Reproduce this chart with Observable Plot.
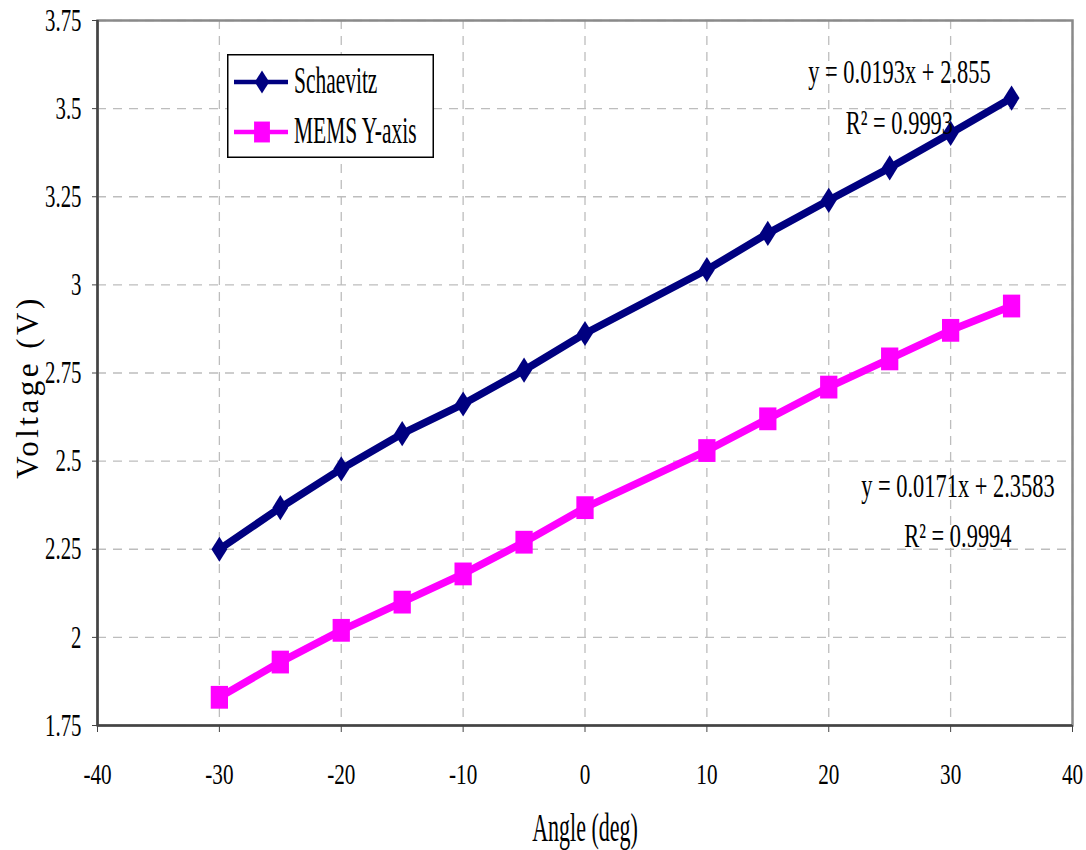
<!DOCTYPE html>
<html><head><meta charset="utf-8">
<script src="https://cdn.jsdelivr.net/npm/d3@7"></script>
<script src="https://cdn.jsdelivr.net/npm/@observablehq/plot@0.6"></script>
<style>
body{margin:0;background:#fff;}
#chart{position:relative;width:1086px;height:850px;}
</style></head><body><div id="chart"></div>
<script>
// ---- data ----
const angles    = [-30, -25, -20, -15, -10, -5, 0, 10, 15, 20, 25, 30, 35];
const schaevitz = [2.25, 2.368, 2.478, 2.578, 2.662, 2.758, 2.862, 3.043, 3.146, 3.24, 3.332, 3.43, 3.53];
const mems      = [1.83, 1.93, 2.02, 2.10, 2.18, 2.27, 2.368, 2.53, 2.62, 2.71, 2.79, 2.871, 2.94];
const seriesNames  = ["Schaevitz", "MEMS Y-axis"];
const seriesColors = ["#000080", "#ff00ff"];
const xTicks = [-40, -30, -20, -10, 0, 10, 20, 30, 40];
const yTicks = [1.75, 2, 2.25, 2.5, 2.75, 3, 3.25, 3.5, 3.75];
const fitEquations = ["y = 0.0193x + 2.855", "y = 0.0171x + 2.3583"];
const fitR2 = ["R\u00B2 = 0.9993", "R\u00B2 = 0.9994"];
const xLabel = "Angle (deg)";
const yLabel = "Voltage (V)";

// ---- build table ----
const rows = angles.flatMap((a, i) => [
  {angle: a, v: schaevitz[i], s: seriesNames[0]},
  {angle: a, v: mems[i], s: seriesNames[1]}
]);
// annotation anchors in data space
const fitNotes = [
  {t: fitEquations[0], x: 25.8, y: 3.574},
  {t: fitR2[0],        x: 25.8, y: 3.429},
  {t: fitEquations[1], x: 30.6, y: 2.397},
  {t: fitR2[1],        x: 30.6, y: 2.255}
];

function tall(kind) {
  return {draw(ctx, size) {
    const r = Math.sqrt(size / Math.PI);
    const w = kind === "diamond" ? r * 0.66 : r * 0.72, h = kind === "diamond" ? r * 1.05 : r * 0.95;
    if (kind === "diamond") {
      ctx.moveTo(0, -h); ctx.lineTo(w, 0); ctx.lineTo(0, h); ctx.lineTo(-w, 0); ctx.closePath();
    } else {
      ctx.moveTo(-w, -h); ctx.lineTo(w, -h); ctx.lineTo(w, h); ctx.lineTo(-w, h); ctx.closePath();
    }
  }};
}
const symbols = [tall("diamond"), tall("square")];

const grid = {stroke: "#bdbdbd", strokeOpacity: 1, strokeWidth: 1.3, strokeDasharray: "9,7"};
const FONT = "Liberation Serif";

const plot = Plot.plot({
  width: 1086, height: 850,
  marginLeft: 97, marginRight: 14, marginTop: 20, marginBottom: 125,
  style: {fontFamily: FONT, color: "#000", background: "#fff"},
  x: {domain: [-40, 40]},
  y: {domain: [1.75, 3.75]},
  color: {domain: seriesNames, range: seriesColors},
  marks: [
    Plot.gridX(xTicks, grid),
    Plot.gridY(yTicks, grid),
    Plot.frame({stroke: "#8a8a8a", strokeWidth: 2.5}),
    Plot.ruleX([-40], {stroke: "#444", strokeWidth: 2.5}),
    Plot.ruleY([1.75], {stroke: "#444", strokeWidth: 2.5}),
    Plot.axisX(xTicks, {tickSize: 7, tickPadding: 31, fontSize: 29, fontFamily: FONT, tickFormat: d => String(d), label: null, stroke: "#444"}),
    Plot.axisY(yTicks, {tickSize: 5, tickPadding: 11, fontSize: 32, fontFamily: FONT, tickFormat: d => String(d), label: null, stroke: "#444"}),
    Plot.line(rows, {x: "angle", y: "v", z: "s", stroke: "s", strokeWidth: 7.5, strokeLinejoin: "round"}),
    ...seriesNames.map((name, k) =>
      Plot.dot(rows.filter(d => d.s === name), {x: "angle", y: "v", fill: "s", stroke: null, r: 12, symbol: symbols[k]})
    ),
    Plot.text(fitNotes, {x: "x", y: "y", text: "t", textAnchor: "middle", lineAnchor: "bottom", fontSize: 33, fontFamily: FONT, fill: "#000"}),
    Plot.text([xLabel], {text: d => d, frameAnchor: "bottom", dy: 115, textAnchor: "middle", lineAnchor: "bottom", fontSize: 40, fontFamily: FONT, fill: "#000"}),
    Plot.text([yLabel], {text: d => d, frameAnchor: "left", rotate: -90, dx: -60, dy: 14, textAnchor: "middle", lineAnchor: "bottom", fontSize: 31, fontFamily: FONT, fill: "#000"})
  ]
});
document.getElementById("chart").appendChild(plot);

function condenseEls(els, sx) {
  els.forEach(t => {
    let tr = t.getAttribute("transform");
    if (!tr) {
      const x = +(t.getAttribute("x") || 0);
      tr = `translate(${x},0)`;
      t.setAttribute("x", 0);
    }
    t.setAttribute("transform", tr + ` scale(${sx},1)`);
  });
}
condenseEls(plot.querySelectorAll('[aria-label="x-axis tick label"] text'), 0.73);
condenseEls(plot.querySelectorAll('[aria-label="y-axis tick label"] text'), 0.65);
const textGroups = plot.querySelectorAll('g[aria-label="text"]');
// order: fit notes, x title, y title
condenseEls(textGroups[0].querySelectorAll("text"), 0.68);
condenseEls(textGroups[1].querySelectorAll("text"), 0.55);
textGroups[2].querySelectorAll("text").forEach(t => { t.style.letterSpacing = "3.5px"; t.style.fontWeight = "300"; });

// ---- legend ----
const leg = d3.select("#chart").append("svg")
  .attr("width", 207).attr("height", 104)
  .style("position", "absolute").style("left", "227px").style("top", "54px");
leg.append("rect").attr("x", 0.75).attr("y", 0.75).attr("width", 205.5).attr("height", 102.5)
  .attr("fill", "#fff").attr("stroke", "#000").attr("stroke-width", 1.5);
seriesNames.forEach((name, i) => {
  const cy = 28 + i * 50;
  leg.append("line").attr("x1", 7).attr("x2", 61).attr("y1", cy).attr("y2", cy)
    .attr("stroke", seriesColors[i]).attr("stroke-width", 4.5);
  const p = d3.path();
  symbols[i].draw(p, 11 * 11 * Math.PI);
  leg.append("path").attr("d", p.toString()).attr("transform", `translate(35,${cy})`).attr("fill", seriesColors[i]);
  leg.append("text").text(name).attr("transform", `translate(67,${cy + 11}) scale(0.58,1)`)
    .attr("font-family", FONT).attr("font-size", 37).attr("fill", "#000");
});
</script></body></html>
